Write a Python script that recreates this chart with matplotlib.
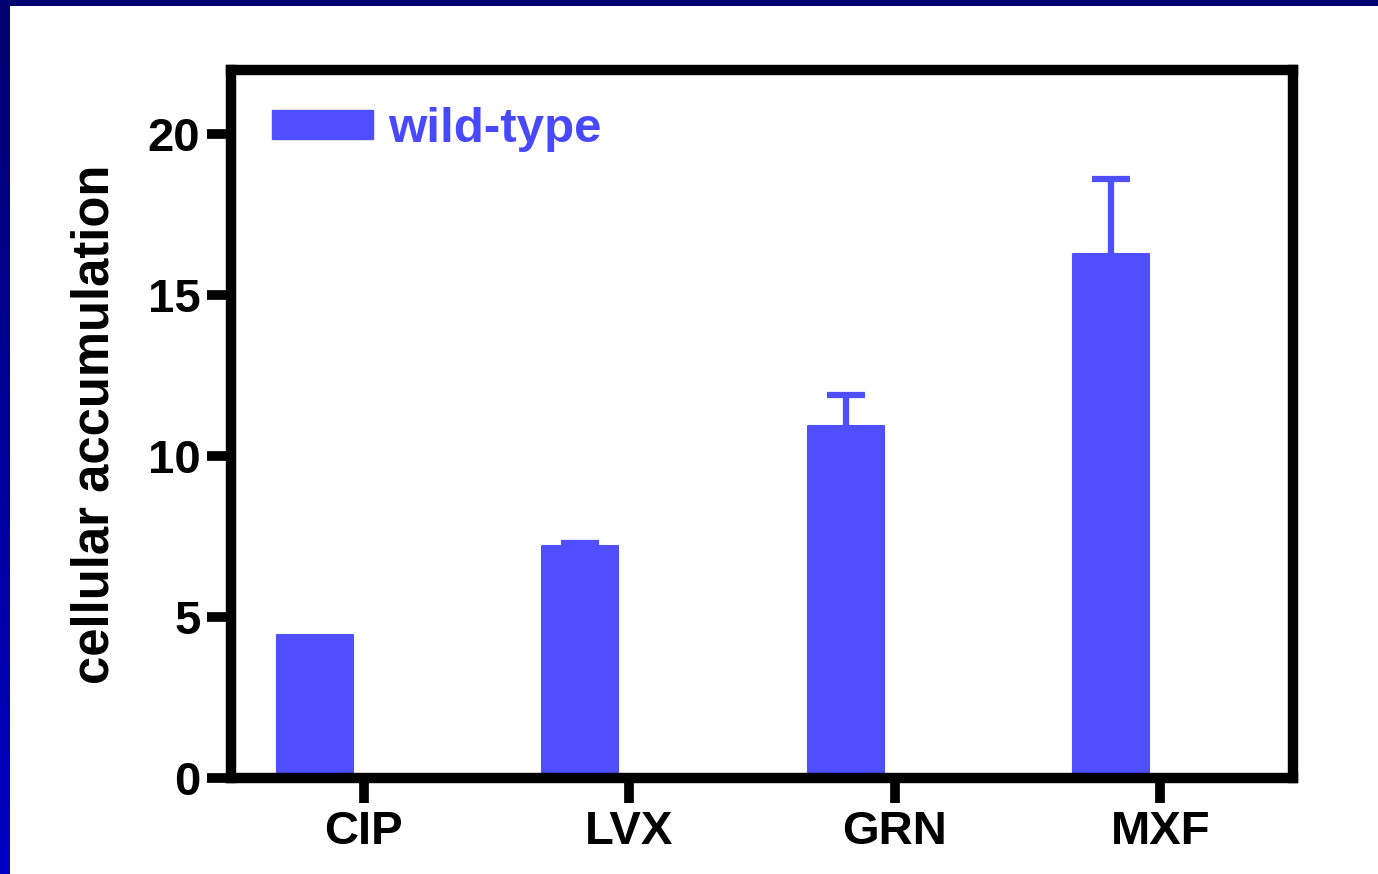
import numpy as np
import matplotlib.pyplot as plt
from matplotlib.patches import Patch
from matplotlib.colors import LinearSegmentedColormap

plt.rcParams['font.family'] = ['Liberation Sans', 'DejaVu Sans']
plt.rcParams['font.weight'] = 'bold'

drugs = ['CIP', 'LVX', 'GRN', 'MXF']
wild_type = [4.45, 7.22, 10.95, 16.27]
wild_type_err = [0.0, 0.07, 0.96, 2.35]

bar_blue = '#4f4fff'
text_blue = '#4848ff'

fig = plt.figure(figsize=(13.78, 8.74), dpi=100)
fig.patch.set_facecolor('white')

# slide frame: navy strip along the top, darker-to-brighter blue strip down the left
top = fig.add_axes([0, 1 - 6 / 874, 1, 6 / 874])
top.set_axis_off()
top.add_patch(plt.Rectangle((0, 0), 1, 1, color='#000070', transform=top.transAxes))
side = fig.add_axes([0, 0, 10 / 1378, 1])
side.set_axis_off()
grad = np.linspace(0, 1, 256).reshape(-1, 1)
cm = LinearSegmentedColormap.from_list('edge', ['#000070', '#0000c4'])
side.imshow(grad, aspect='auto', cmap=cm, extent=[0, 1, 0, 1], origin='upper')

ax = fig.add_axes([231 / 1378, 96 / 874, 1062 / 1378, 708 / 874])

x = np.arange(len(drugs))
offset = 0.185
width = 0.286
pos = x - offset
ax.bar(pos, wild_type, width, color=bar_blue, edgecolor=bar_blue,
       linewidth=1.5, joinstyle='round', zorder=2)

# upper error bars only, behind the bars
err = np.array(wild_type_err)
has_err = err > 0
eb = ax.errorbar(pos[has_err], np.array(wild_type)[has_err],
                 yerr=[np.zeros(has_err.sum()), err[has_err]],
                 fmt='none', ecolor=bar_blue, elinewidth=4.5, capsize=14,
                 capthick=4.5, zorder=1)
eb[1][0].set_visible(False)

ax.set_xlim(-0.5, 3.5)
ax.set_ylim(0, 22)
ax.set_xticks(x)
ax.set_xticklabels(drugs)
ax.set_yticks([0, 5, 10, 15, 20])

for s in ax.spines.values():
    s.set_linewidth(7.5)
    s.set_capstyle('projecting')
ax.tick_params(axis='both', width=7, labelsize=34, pad=5)
ax.tick_params(axis='y', length=17)
ax.tick_params(axis='x', length=18)
for lbl in ax.get_xticklabels() + ax.get_yticklabels():
    lbl.set_fontweight('bold')

ax.set_ylabel('cellular accumulation', fontsize=36.5, fontweight='bold', labelpad=20)

leg = ax.legend([Patch(facecolor=bar_blue, edgecolor=bar_blue)], ['wild-type'],
                loc='upper left', bbox_to_anchor=(0.039, 0.948), frameon=False,
                fontsize=35.5, handlelength=2.05, handleheight=0.55, handletextpad=0.3,
                borderpad=0, borderaxespad=0)
for t in leg.get_texts():
    t.set_color(text_blue)
    t.set_fontweight('bold')

fig.savefig('out.png', dpi=100)
